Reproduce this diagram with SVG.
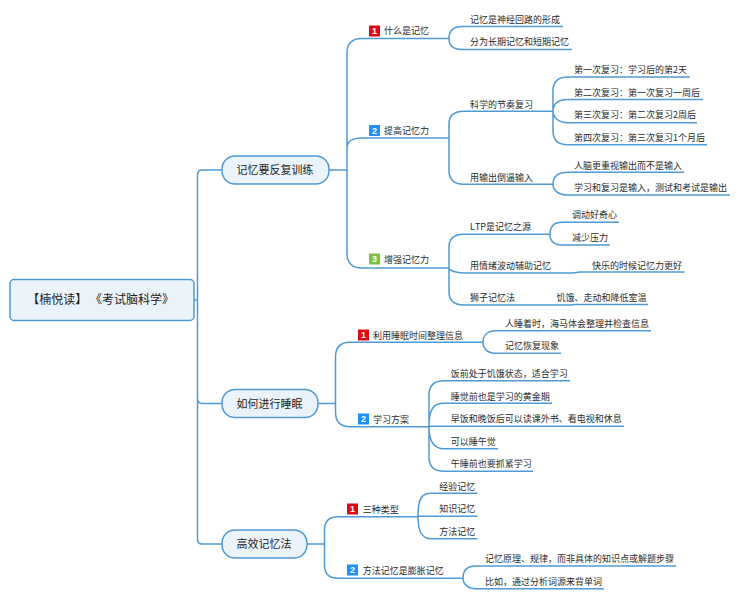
<svg xmlns="http://www.w3.org/2000/svg" width="740" height="600" viewBox="0 0 740 600">
<style>
text{font-family:"Noto Sans CJK SC","Noto Sans",sans-serif;fill:#2a2a2a;font-size:9px}
.c{fill:none;stroke:#4e9ad4;stroke-width:1.5}
.b{fill:#ebf3fa;stroke:#4e9ad4;stroke-width:1.5}
.m{font-family:"Liberation Sans",sans-serif;font-weight:bold;fill:#fff;font-size:9px;text-anchor:middle}
.r{fill:#dc0a10}.u{fill:#1e90ff}.g{fill:#7cc142}
.h{font-size:11px;text-anchor:middle;fill:#222}
.k{font-size:12px;fill:#222;font-feature-settings:"chws" 0,"halt" 0,"palt" 0}
</style>
<rect width="740" height="600" fill="#fff"/>
<g id="connectors" class="c">
<path class="c" d="M194 300H197.5M222 170H202Q197.5 170 197.5 175V539Q197.5 544 202 544H222M197.5 398Q197.5 403.5 202 403.5H222"/>
<path class="c" d="M329 170H347M362 38.5C352 38.5 347 43 347 53V253C347 263 352 268 362 268H449M347 148C347 142 352 138 362 138H449M362 38.5H449"/>
<path class="c" d="M563 26.5H462C453 26.5 449 31 449 38.5C449 45 453 49.5 462 49.5H572"/>
<path class="c" d="M449 138V124C449 115 455 111.3 464 111.3H553M449 138V170C449 180 455 184.3 464 184.3H553"/>
<path class="c" d="M690 77H568C558 77 553 82 553 91V131C553 140 558 144.7 568 144.7H707M703 99.5H568C559 99.5 553 103 553 111.3C553 118 559 122.7 568 122.7H697"/>
<path class="c" d="M684 172.3H568C558 172.3 553 177 553 184.3C553 190 558 195 568 195H730"/>
<path class="c" d="M449 268V247C449 238 455 234.3 464 234.3H550M449 268V292C449 301 455 305 464 305H565Q570 305 575 304.5H648M449 268C449 270 455 273 464 273H570Q575 273 580 272H684.5"/>
<path class="c" d="M619 222.3H562C554 222.3 550 227 550 234.3C550 241 554 245 562 245H610"/>
<path class="c" d="M318 403.5H335.5M350 342.3C340 342.3 335.5 347 335.5 357V412C335.5 422 340 426.7 350 426.7H429M350 342.3H483"/>
<path class="c" d="M651 330.7H496C488 330.7 483 335 483 342.3C483 349 488 353.3 496 353.3H561"/>
<path class="c" d="M570 380.7H444C434 380.7 429 385 429 395V457C429 466 434 471.3 444 471.3H533M552 403.3H444C434 403.3 429 408 429 426.7C429 441 434 448.7 444 448.7H498M429 426.3H624"/>
<path class="c" d="M307 544H324.5M338 516.7C329 516.7 324.5 521 324.5 530V565C324.5 574 329 578.3 338 578.3H463M338 516.7H418"/>
<path class="c" d="M477.5 493.3H431C422 493.3 418 498 418 516.7C418 532 422 538.7 431 538.7H477.5M418 516.3H477.5"/>
<path class="c" d="M676 566H476C468 566 463 570 463 578C463 584 468 588.7 476 588.7H604"/>
</g>
<g id="root"><rect class="b" x="10" y="279.5" width="184" height="41" rx="4"/><text class="k" x="27.3" y="304.3">【楠悦读】 《考试脑科学》</text></g>
<g id="n1"><rect class="b" x="222" y="156" width="107" height="28" rx="13"/><text class="h" x="275" y="174">记忆要反复训练</text></g>
<g id="n2"><rect class="b" x="222" y="389.5" width="96" height="28" rx="13"/><text class="h" x="269.5" y="408">如何进行睡眠</text></g>
<g id="n3"><rect class="b" x="222" y="530" width="85" height="28" rx="13"/><text class="h" x="264" y="548">高效记忆法</text></g>
<g id="n1-1"><rect class="r" x="369" y="25.5" width="11" height="11"/><text class="m" x="374.5" y="34.3">1</text><text x="384" y="34.3">什么是记忆</text></g>
<g id="n1-2"><rect class="u" x="369" y="125" width="11" height="11"/><text class="m" x="374.5" y="133.8">2</text><text x="384" y="134">提高记忆力</text></g>
<g id="n1-3"><rect class="g" x="369" y="253.5" width="11" height="11"/><text class="m" x="374.5" y="262.3">3</text><text x="384" y="262.5">增强记忆力</text></g>
<g id="leaves1">
<text x="470" y="22.7">记忆是神经回路的形成</text>
<text x="470" y="45.4">分为长期记忆和短期记忆</text>
<text x="470" y="107.5">科学的节奏复习</text>
<text x="574" y="73">第一次复习：学习后的第2天</text>
<text x="574" y="95.5">第二次复习：第一次复习一周后</text>
<text x="574" y="118">第三次复习：第二次复习2周后</text>
<text x="574" y="140.5">第四次复习：第三次复习1个月后</text>
<text x="470" y="180.5">用输出倒逼输入</text>
<text x="574" y="168.5">人脑更重视输出而不是输入</text>
<text x="574" y="191">学习和复习是输入，测试和考试是输出</text>
<text x="470" y="230.3">LTP是记忆之源</text>
<text x="572" y="218.3">调动好奇心</text>
<text x="572" y="241">减少压力</text>
<text x="470" y="269.3">用情绪波动辅助记忆</text>
<text x="592" y="268.5">快乐的时候记忆力更好</text>
<text x="470" y="301">狮子记忆法</text>
<text x="556.5" y="300.5">饥饿、走动和降低室温</text>
</g>
<g id="n2-1"><rect class="r" x="358" y="329.5" width="11" height="11"/><text class="m" x="363.5" y="338.3">1</text><text x="373" y="338.8">利用睡眠时间整理信息</text></g>
<g id="n2-2"><rect class="u" x="358" y="413.5" width="11" height="11"/><text class="m" x="363.5" y="422.3">2</text><text x="373" y="422.5">学习方案</text></g>
<g id="leaves2">
<text x="505" y="326.8">人睡着时，海马体会整理并检查信息</text>
<text x="505" y="349.4">记忆恢复现象</text>
<text x="450.7" y="376.8">饭前处于饥饿状态，适合学习</text>
<text x="450.7" y="399.5">睡觉前也是学习的黄金期</text>
<text x="450.7" y="422">早饭和晚饭后可以读课外书、看电视和休息</text>
<text x="450.7" y="444.8">可以睡午觉</text>
<text x="450.7" y="467.4">午睡前也要抓紧学习</text>
</g>
<g id="n3-1"><rect class="r" x="347" y="503.5" width="11" height="11"/><text class="m" x="352.5" y="512.3">1</text><text x="362.7" y="512.5">三种类型</text></g>
<g id="n3-2"><rect class="u" x="347" y="564.5" width="11" height="11"/><text class="m" x="352.5" y="573.3">2</text><text x="362.7" y="573.7">方法记忆是膨胀记忆</text></g>
<g id="leaves3">
<text x="439.3" y="489.5">经验记忆</text>
<text x="439.3" y="512">知识记忆</text>
<text x="439.3" y="534.6">方法记忆</text>
<text x="485" y="562">记忆原理、规律，而非具体的知识点或解题步骤</text>
<text x="485" y="584.7">比如，通过分析词源来背单词</text>
</g>
</svg>
